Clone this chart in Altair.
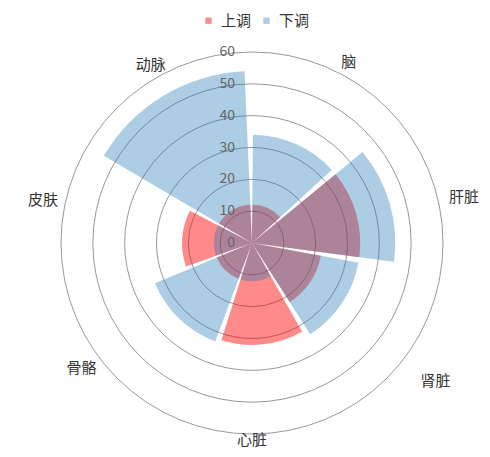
import math
import altair as alt
import pandas as pd

# ---- data ----
categories = ["脑", "肝脏", "肾脏", "心脏", "骨骼", "皮肤", "动脉"]
up_values = [12, 34, 22, 32, 12, 22, 12]      # 上调
down_values = [34, 45, 34, 12, 33, 12, 54]    # 下调
series_names = ["上调", "下调"]
radial_ticks = [0, 10, 20, 30, 40, 50, 60]

n = len(categories)
STEP = 50.0      # angular step of sectors (deg)

rows = []
for s, vals in zip(series_names, [up_values, down_values]):
    for i, (c, v) in enumerate(zip(categories, vals)):
        a0 = i * STEP + 0.5
        a1 = ((i + 1) * STEP if i < n - 1 else 360.0) - 2.5
        rows.append({"cat": c, "idx": i, "series": s, "value": v, "a0": a0, "a1": a1})
bars_df = pd.DataFrame(rows)

lab_rows = []
for i, c in enumerate(categories):
    ang = (i + 0.5) * 360.0 / n
    if abs(ang - 180) < 1:
        side = "c"
    elif ang < 180:
        side = "l"
    else:
        side = "r"
    lab_rows.append({"cat": c, "ang": ang, "side": side})
labels_df = pd.DataFrame(lab_rows)

rings_df = pd.DataFrame({"v": radial_ticks[1:]})
ticks_df = pd.DataFrame({"v": radial_ticks})

CX, CY = 244, 235
R = 191
FONT = "Noto Sans CJK SC"

tscale = alt.Scale(domain=[0, 360], range=[0, 2 * math.pi])
rscale = alt.Scale(type="linear", domain=[0, 60], range=[0, R], zero=True, nice=False)
# circle symbol: diameter = sqrt(size)  ->  size = (2 r)^2
sscale = alt.Scale(type="pow", exponent=2, domain=[0, 60], range=[0, (2 * R) ** 2], zero=True, nice=False)

rings = alt.Chart(rings_df).mark_point(
    shape="circle", filled=False, stroke="#999999", strokeWidth=1, opacity=1
).encode(
    size=alt.Size("v:Q", scale=sscale, legend=None),
    x=alt.value(CX), y=alt.value(CY),
)

bars = alt.Chart(bars_df).mark_arc(opacity=1).encode(
    theta=alt.Theta("a0:Q", scale=tscale, stack=False),
    theta2="a1:Q",
    radius=alt.Radius("value:Q", scale=rscale),
    color=alt.Color(
        "series:N",
        scale=alt.Scale(domain=series_names,
                        range=["rgba(255,0,0,0.46)", "rgba(31,119,180,0.37)"]),
        legend=alt.Legend(
            title=None, orient="none", legendX=193, legendY=5,
            direction="horizontal", symbolType="square", symbolSize=40,
            labelFontSize=15, labelFont=FONT, labelColor="#333333",
            labelOffset=5, columnPadding=7, padding=0, symbolStrokeWidth=0,
        ),
    ),
    x=alt.value(CX), y=alt.value(CY),
)

tick_labels = alt.Chart(ticks_df).mark_text(
    align="right", baseline="middle", dx=-17, fontSize=14, color="#666666", font=FONT
).encode(
    radius=alt.Radius("v:Q", scale=rscale),
    theta=alt.value(0),
    text="v:Q",
    x=alt.value(CX), y=alt.value(CY),
)

def cat_layer(side, align, dx=0, dy=0, extra_filter=None):
    ch = alt.Chart(labels_df).transform_filter(alt.datum.side == side)
    if extra_filter is not None:
        ch = ch.transform_filter(extra_filter)
    return ch.mark_text(
        align=align, baseline="middle", fontSize=15, color="#333333", font=FONT, dx=dx, dy=dy
    ).encode(
        theta=alt.Theta("ang:Q", scale=tscale, stack=False),
        radius=alt.value(199),
        text="cat:N",
        x=alt.value(CX), y=alt.value(CY),
    )

lab_right = cat_layer("l", "left", dx=3, dy=-2, extra_filter=alt.datum.cat != "肾脏")
lab_kidney = cat_layer("l", "left", dx=13, dy=14, extra_filter=alt.datum.cat == "肾脏")
lab_center = cat_layer("c", "center", dy=-2)
lab_left = cat_layer("r", "right", dy=1)

chart = alt.layer(
    rings, bars, tick_labels, lab_right, lab_kidney, lab_center, lab_left
).properties(
    width=474, height=441, padding=0, autosize="none"
).configure(font=FONT).configure_view(strokeWidth=0)

chart.save("out.html", embed_options={"renderer": "svg", "actions": False})
